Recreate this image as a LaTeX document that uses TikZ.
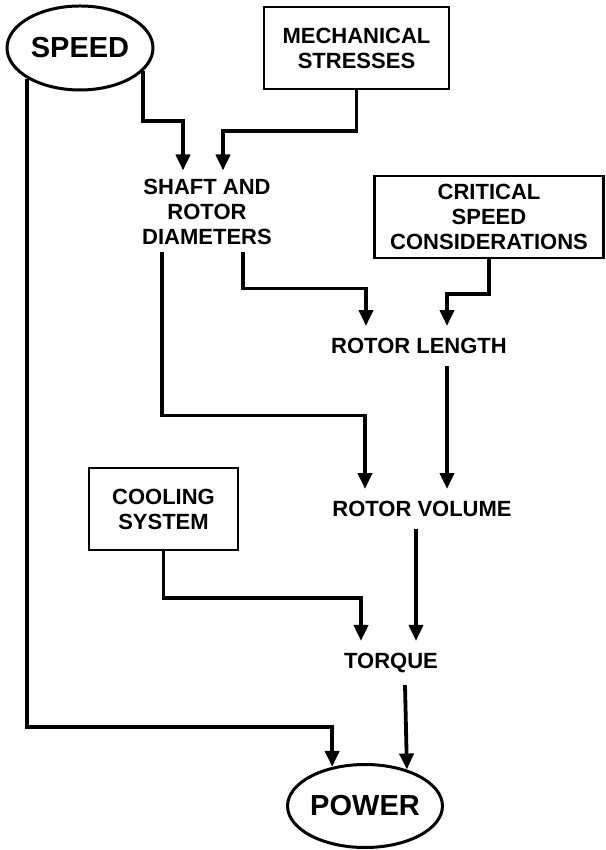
\documentclass[tikz,border=0pt]{standalone}
\usepackage{fontspec}
\setmainfont{Liberation Sans}
\usetikzlibrary{shapes.geometric,arrows.meta}

\begin{document}
\begin{tikzpicture}[x=1pt, y=1pt,
    every node/.style={font=\bfseries\fontsize{22}{25}\selectfont, align=center},
    factor/.style={draw, line width=2.4pt, minimum height=82pt, inner sep=0pt},
    goal/.style={draw, ellipse, line width=3pt, inner sep=0pt, font=\bfseries\fontsize{29}{30}\selectfont},
    quantity/.style={inner xsep=0pt, inner ysep=12pt},
    flow/.style={line width=3.8pt, -{Triangle[length=16pt,width=14pt]}}]
    \useasboundingbox (0,0) rectangle (605,850);
    % sources and results
    \node[goal, minimum width=146pt, minimum height=84pt] (speed) at (80,802) {SPEED};
    \node[goal, minimum width=143pt, minimum height=83pt] (power) at (365,44) {POWER};
    % boxed factors
    \node[factor, minimum width=185pt] (mech) at (356.5,802) {MECHANICAL\\STRESSES};
    \node[factor, minimum width=229pt] (crit) at (489,633) {CRITICAL\\SPEED\\CONSIDERATIONS};
    \node[factor, minimum width=149pt] (cool) at (163.5,341) {COOLING\\SYSTEM};
    % derived quantities
    \node[quantity, inner ysep=8pt] (shaft) at (207,638.5) {SHAFT AND\\ROTOR\\DIAMETERS};
    \node[quantity] (length) at (419,504) {ROTOR LENGTH};
    \node[quantity] (volume) at (422,341) {ROTOR VOLUME};
    \node[quantity] (torque) at (391,187) {TORQUE};
    % connections
    \draw[flow] (speed.-20) -- ++(0,-50) -| ([xshift=-24pt]shaft.north);
    \draw[flow] (mech.south) -- ++(0,-41) -| ([xshift=16pt]shaft.north);
    \draw[flow] ([xshift=36pt]shaft.south) -- ++(0,-36) -| ([xshift=-53pt]length.north);
    \draw[flow] (crit.south) -- ++(0,-35) -| ([xshift=28pt]length.north);
    \draw[flow] ([xshift=-45pt]shaft.south) -- ++(0,-163) -| ([xshift=-57pt]volume.north);
    \draw[flow] ([xshift=28pt]length.south) -- ([xshift=25pt]volume.north);
    \draw[flow] (cool.south) -- ++(0,-47) -| ([xshift=-30pt]torque.north);
    \draw[flow] ([xshift=-6pt]volume.south) -- ([xshift=25pt]torque.north);
    \draw[flow] ([xshift=14pt]torque.south) -- (power.41);
    \draw[flow] (speed.-150) -- ++(0,-648.5) -| (power.130);
\end{tikzpicture}
\end{document}
